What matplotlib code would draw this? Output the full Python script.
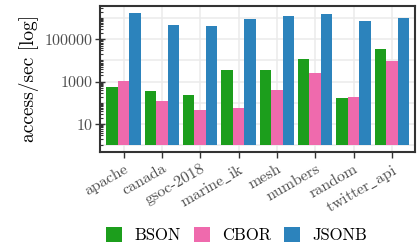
import numpy as np
import matplotlib
matplotlib.use("Agg")
import matplotlib.pyplot as plt
from matplotlib.patches import Patch
from matplotlib.ticker import FixedLocator, NullFormatter

plt.rcParams['font.family'] = ['cmr10', 'DejaVu Serif']
plt.rcParams['mathtext.fontset'] = 'cm'
plt.rcParams['axes.formatter.use_mathtext'] = True

datasets = ['apache', 'canada', 'gsoc-2018', 'marine_ik', 'mesh',
            'numbers', 'random', 'twitter_api']
formats = ['BSON', 'CBOR', 'JSONB']
bson = [560, 360, 230, 3400, 3400, 12000, 165, 33000]
cbor = [1070, 123, 45, 56, 390, 2700, 185, 9000]
jsonb = [1800000, 480000, 440000, 920000, 1260000, 1580000, 740000, 1000000]
colors = ['#1c9e1c', '#ef6aad', '#2c83bc']

fig = plt.figure(figsize=(4.17, 2.48), dpi=100)
ax = fig.add_axes([0.241, 0.387, 0.754, 0.589])

x = np.arange(len(datasets))
w = 0.3
for i, (vals, c) in enumerate(zip([bson, cbor, jsonb], colors)):
    vals = np.array(vals, dtype=float)
    ax.bar(x + (i - 1) * w, vals - 1, bottom=1, width=w, color=c,
           zorder=3, linewidth=0)

ax.set_yscale('log')
top = np.log10(max(jsonb))
ax.set_ylim(10 ** (-0.05 * top), 10 ** (top * 1.05))
ax.set_xlim(-0.6, len(datasets) - 0.4)

# grid: major decades labelled, odd decades in between as minor
ax.set_yticks([10, 1000, 100000])
ax.set_yticklabels(['10', '1000', '100000'])
for d in [1, 10, 100, 1000, 10000, 100000, 1000000]:
    ax.axhline(d, color='#ebebeb', lw=1.1, zorder=0)
for xi in x:
    ax.axvline(xi, color='#ebebeb', lw=1.1, zorder=0)

minor = [m * 10 ** k for k in range(0, 7) for m in range(1, 10)]
ax.yaxis.set_minor_locator(FixedLocator(minor))
ax.yaxis.set_minor_formatter(NullFormatter())
ax.tick_params(axis='y', which='minor', direction='in', length=2.5,
               width=0.8, color='#333333')
ax.tick_params(axis='y', which='major', direction='inout', length=7,
               width=1, color='#333333', labelsize=11.5, labelcolor='#4d4d4d',
               pad=2)

# cmr10 has no plain underscore glyph, so go through mathtext for it
xlabels = [d.replace('_', r'$\_$') for d in datasets]
ax.set_xticks(x)
ax.set_xticklabels(xlabels, rotation=30, ha='right', rotation_mode='anchor')
ax.tick_params(axis='x', length=4, width=1, color='#333333',
               labelsize=11.5, labelcolor='#4d4d4d', pad=3)

for s in ax.spines.values():
    s.set_color('#333333')
    s.set_linewidth(1.5)

ax.set_ylabel('access/sec [log]', fontsize=14, labelpad=4)

handles = [Patch(facecolor=c, edgecolor='none') for c in colors]
fig.legend(handles, formats, loc='center', bbox_to_anchor=(0.568, 0.052),
           ncol=3, frameon=False, fontsize=12, handlelength=0.96,
           handleheight=0.96, columnspacing=0.75, handletextpad=0.75)

fig.savefig('out.png', dpi=100)
